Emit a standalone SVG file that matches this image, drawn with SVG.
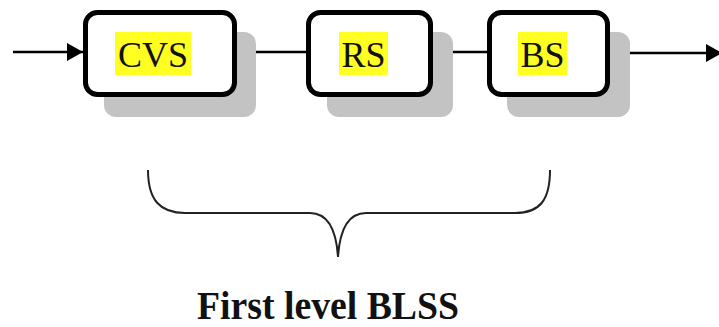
<svg xmlns="http://www.w3.org/2000/svg" width="719" height="327" viewBox="0 0 719 327">
<style>
.box{fill:#fff;stroke:#000;stroke-width:5}
.shadow{fill:#c3c3c3}
.hl{fill:#ffff22}
.lbl{font-family:"Liberation Serif","Times New Roman",serif;font-size:36px;fill:#111}
.conn{stroke:#000;stroke-width:2.5;fill:none}
</style>
<defs>
<marker id="arr" markerUnits="userSpaceOnUse" markerWidth="18" markerHeight="20" refX="16" refY="9" orient="auto">
<path d="M0,0 L16,9 L0,18 Z" fill="#000"/>
</marker>
</defs>
<rect width="719" height="327" fill="#fff"/>
<g id="connectors">
<line class="conn" x1="13" y1="52" x2="83" y2="52" marker-end="url(#arr)"/>
<line class="conn" x1="235" y1="52" x2="309" y2="52"/>
<line class="conn" x1="431" y1="52" x2="490" y2="52"/>
<line class="conn" x1="608" y1="53" x2="722" y2="53" marker-end="url(#arr)"/>
</g>
<g id="cvs">
<rect class="shadow" x="104" y="32" width="152" height="85" rx="12"/>
<rect class="box" x="85.5" y="12.5" width="149" height="82" rx="12"/>
<rect class="hl" x="115" y="32" width="76" height="43"/>
<text class="lbl" x="153" y="67" text-anchor="middle">CVS</text>
</g>
<g id="rs">
<rect class="shadow" x="327" y="32" width="126" height="85" rx="12"/>
<rect class="box" x="308.5" y="12.5" width="122" height="82" rx="12"/>
<rect class="hl" x="339" y="32" width="49" height="43"/>
<text class="lbl" x="363.5" y="67" text-anchor="middle">RS</text>
</g>
<g id="bs">
<rect class="shadow" x="507" y="32" width="123" height="85" rx="12"/>
<rect class="box" x="489.5" y="12.5" width="118" height="82" rx="12"/>
<rect class="hl" x="518" y="32" width="49" height="43"/>
<text class="lbl" x="542.5" y="67" text-anchor="middle">BS</text>
</g>
<g id="brace">
<path d="M148,170 C148,200 160,213 185,213 L310,213 C326,213 336,226 338,257 C340,226 350,213 366,213 L515,213 C540,213 550,200 550,170" fill="none" stroke="#222" stroke-width="2"/>
</g>
<g id="caption">
<text x="197" y="319" font-family="'Liberation Serif','Times New Roman',serif" font-weight="bold" font-size="40" textLength="262" lengthAdjust="spacingAndGlyphs" fill="#111">First level BLSS</text>
</g>
</svg>
